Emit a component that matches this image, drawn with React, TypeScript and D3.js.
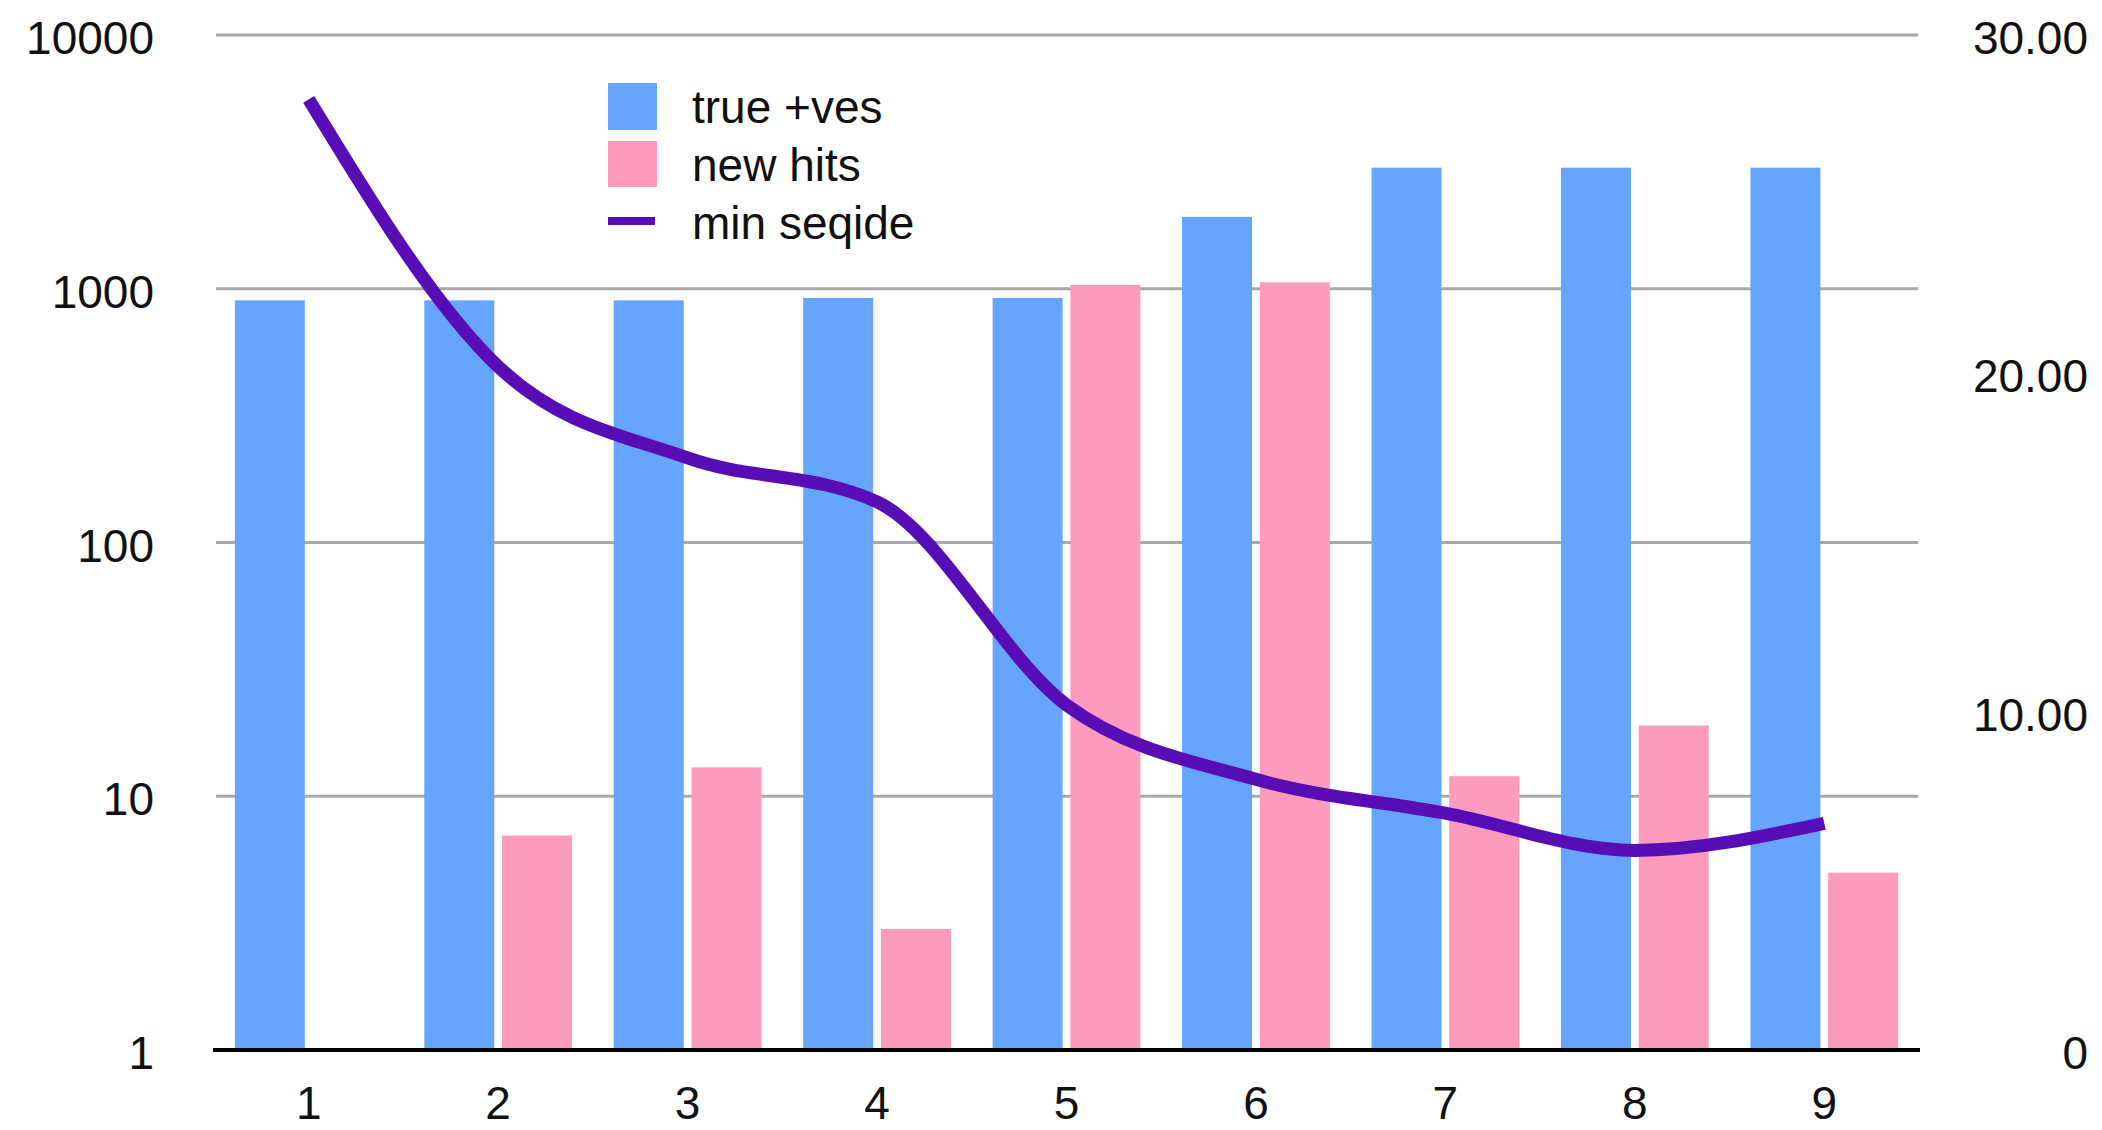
import * as d3 from 'd3';
import React, { useEffect, useRef } from 'react';

const categories = ['1', '2', '3', '4', '5', '6', '7', '8', '9'];
const truePositives = [900, 900, 900, 920, 920, 1920, 3000, 3000, 3000];
const newHits = [null, 7, 13, 3, 1035, 1060, 12, 19, 5];
const minSeqide = [28.1, 20.2, 17.5, 16.2, 10.2, 8.0, 7.0, 5.9, 6.7];
const leftTicks = [1, 10, 100, 1000, 10000];
const rightTicks = [0, 10, 20, 30];

const W = 2102;
const H = 1130;
const FONT = '"Liberation Sans", Arial, Helvetica, sans-serif';

const App = () => {
  const ref = useRef(null);

  useEffect(() => {
    const svg = d3.select(ref.current);
    svg.selectAll('*').remove();

    const left = 214;
    const right = 1919;
    const top = 35;
    const bottom = 1050;

    const x0 = d3.scaleBand()
      .domain(categories)
      .range([left, right])
      .paddingInner(0.22)
      .paddingOuter(0.11);

    const x1 = d3.scaleBand()
      .domain(['tp', 'nh'])
      .range([0, x0.bandwidth()])
      .paddingInner(0.1);

    const y = d3.scaleLog().domain([1, 10000]).range([bottom, top]);
    const y2 = d3.scaleLinear().domain([0, 30]).range([bottom, top]);

    // gridlines
    svg.append('g')
      .selectAll('line')
      .data(leftTicks.filter(d => d > 1))
      .enter()
      .append('line')
      .attr('x1', left + 2)
      .attr('x2', right - 1)
      .attr('y1', d => y(d))
      .attr('y2', d => y(d))
      .attr('stroke', '#a9a9a9')
      .attr('stroke-width', 3);

    // left axis labels
    svg.append('g')
      .selectAll('text')
      .data(leftTicks)
      .enter()
      .append('text')
      .attr('x', 154)
      .attr('y', d => y(d) + 3)
      .attr('dy', '0.35em')
      .attr('text-anchor', 'end')
      .style('font-family', FONT)
      .style('font-size', '46px')
      .attr('fill', '#111')
      .text(d => d);

    // right axis labels
    svg.append('g')
      .selectAll('text')
      .data(rightTicks)
      .enter()
      .append('text')
      .attr('x', 2088)
      .attr('y', d => y2(d) + 3)
      .attr('dy', '0.35em')
      .attr('text-anchor', 'end')
      .style('font-family', FONT)
      .style('font-size', '46px')
      .attr('fill', '#111')
      .text(d => (d === 0 ? '0' : d3.format('.2f')(d)));

    // bars
    const groups = svg.append('g')
      .selectAll('g')
      .data(categories)
      .enter()
      .append('g')
      .attr('transform', d => `translate(${x0(d)},0)`);

    groups.append('rect')
      .attr('x', x1('tp'))
      .attr('y', (d, i) => y(truePositives[i]))
      .attr('width', x1.bandwidth())
      .attr('height', (d, i) => bottom - y(truePositives[i]))
      .attr('fill', '#66a5fe');

    groups.filter((d, i) => newHits[i] != null)
      .append('rect')
      .attr('x', x1('nh'))
      .attr('y', d => y(newHits[categories.indexOf(d)]))
      .attr('width', x1.bandwidth())
      .attr('height', d => bottom - y(newHits[categories.indexOf(d)]))
      .attr('fill', '#fc9bbe');

    // x axis line
    svg.append('line')
      .attr('x1', left - 1)
      .attr('x2', right + 1)
      .attr('y1', bottom)
      .attr('y2', bottom)
      .attr('stroke', '#000')
      .attr('stroke-width', 4);

    // x tick labels
    svg.append('g')
      .selectAll('text')
      .data(categories)
      .enter()
      .append('text')
      .attr('x', d => x0(d) + x0.bandwidth() / 2)
      .attr('y', 1103)
      .attr('dy', '0.35em')
      .attr('text-anchor', 'middle')
      .style('font-family', FONT)
      .style('font-size', '46px')
      .attr('fill', '#111')
      .text(d => d);

    // line
    const line = d3.line()
      .x((d, i) => x0(categories[i]) + x0.bandwidth() / 2)
      .y(d => y2(d))
      .curve(d3.curveMonotoneX);

    svg.append('path')
      .datum(minSeqide)
      .attr('d', line)
      .attr('fill', 'none')
      .attr('stroke', '#570cb6')
      .attr('stroke-width', 13);

    // legend
    const legend = svg.append('g');
    legend.append('rect')
      .attr('x', 608).attr('y', 83).attr('width', 49).attr('height', 47)
      .attr('fill', '#66a5fe');
    legend.append('rect')
      .attr('x', 608).attr('y', 141).attr('width', 49).attr('height', 46)
      .attr('fill', '#fc9bbe');
    legend.append('line')
      .attr('x1', 608).attr('x2', 655).attr('y1', 221).attr('y2', 221)
      .attr('stroke', '#570cb6').attr('stroke-width', 8);

    const labels = ['true +ves', 'new hits', 'min seqide'];
    legend.selectAll('text')
      .data(labels)
      .enter()
      .append('text')
      .attr('x', 692)
      .attr('y', (d, i) => 107 + i * 58)
      .attr('dy', '0.35em')
      .style('font-family', FONT)
      .style('font-size', '46px')
      .attr('fill', '#111')
      .text(d => d);
  }, []);

  return (
    <svg
      ref={ref}
      width={W}
      height={H}
      style={{ position: 'absolute', left: 0, top: 0, background: '#fff' }}
    ></svg>
  );
};

export default App;
